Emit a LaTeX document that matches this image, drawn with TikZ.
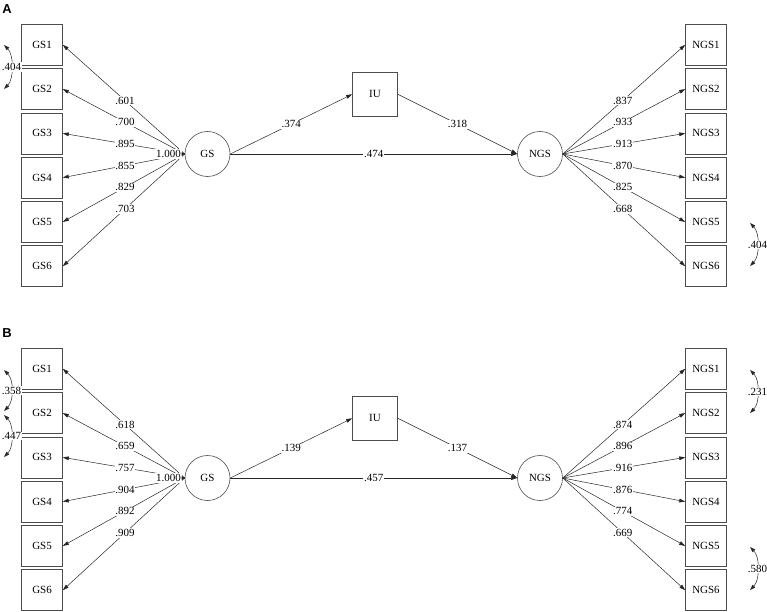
\documentclass[tikz,border=0pt]{standalone}
\usepackage{fontspec}
\setmainfont{Liberation Serif}
\newfontfamily\panelfont{Liberation Sans}
\usetikzlibrary{arrows.meta}
\tikzset{
  txt/.style={font=\fontsize{11}{13}\selectfont},
  obs/.style={draw=black!70, line width=0.6bp, minimum width=41bp, minimum height=41bp, inner sep=0pt, txt},
  lat/.style={circle, draw=black!70, line width=0.6bp, minimum size=45bp, inner sep=0pt, txt},
  arrowpath/.style={draw=black!85, line width=0.5bp, -{Triangle[length=6bp,width=3.8bp]}},
  varpath/.style={draw=black!85, line width=0.5bp, -{Triangle[length=3bp,width=3bp]}},
  covpath/.style={draw=black!85, line width=0.5bp, {Triangle[length=5.5bp,width=3.6bp]}-{Triangle[length=5.5bp,width=3.6bp]}},
  coef/.style={fill=white, inner sep=0.8bp, txt},
  panellabel/.style={font=\panelfont\bfseries\fontsize{13}{15}\selectfont, inner sep=0pt}
}
\newcommand\sempanel[7]{%
  \begin{scope}[shift={(0,#2)}]
    \node[panellabel] (#1-lab) at (7,9.5) {#1};
    \node[lat] (#1-gs) at (207.5,154) {GS};
    \node[lat] (#1-ngs) at (540,154) {NGS};
    \node[obs, minimum width=45bp, minimum height=44bp] (#1-iu) at (375,94.3) {IU};
    \foreach \v [count=\i] in {#3} {
      \node[obs] (#1-gs\i) at (42,{44.8+44.28*(\i-1)}) {GS\i};
      \draw[arrowpath] (#1-gs.west) -- (#1-gs\i.east) node[coef,pos=0.49] {\v};
    }
    \foreach \v [count=\i] in {#4} {
      \node[obs] (#1-ngs\i) at (706,{44.8+44.28*(\i-1)}) {NGS\i};
      \draw[arrowpath] (#1-ngs.east) -- (#1-ngs\i.west) node[coef,pos=0.49] {\v};
    }
    \node[coef] (#1-var) at (168.5,154) {1.000};
    \draw[varpath] (#1-var.east) -- (#1-gs.west);
    \draw[arrowpath] (#1-gs.east) -- (#1-iu.west) node[coef,pos=0.5] {#5};
    \draw[arrowpath] (#1-iu.east) -- (#1-ngs.west) node[coef,pos=0.5] {#6};
    \draw[arrowpath] (#1-gs.east) -- (#1-ngs.west) node[coef,pos=0.5] {#7};
  \end{scope}
}
\begin{document}
\begin{tikzpicture}[x=1bp,y=-1bp]
\useasboundingbox (0,0) rectangle (767,612);
\sempanel{A}{0}{.601,.700,.895,.855,.829,.703}{.837,.933,.913,.870,.825,.668}{.374}{.318}{.474}
\sempanel{B}{324}{.618,.659,.757,.904,.892,.909}{.874,.896,.916,.876,.774,.669}{.139}{.137}{.457}
% covariances, panel A
\coordinate (A-e1) at (4,45);
\coordinate (A-e2) at (4,89);
\draw[covpath] (A-e1) .. controls (14,55) and (14,79) .. (A-e2) node[coef,pos=0.5] {.404};
\coordinate (A-f5) at (750,223);
\coordinate (A-f6) at (750,266);
\draw[covpath] (A-f5) .. controls (760,233) and (760,256) .. (A-f6) node[coef,pos=0.5] {.404};
% covariances, panel B
\coordinate (B-e1) at (4,370);
\coordinate (B-e2a) at (4,411);
\coordinate (B-e2b) at (4,415);
\coordinate (B-e3) at (4,457);
\draw[covpath] (B-e1) .. controls (14,380) and (14,401) .. (B-e2a) node[coef,pos=0.5] {.358};
\draw[covpath] (B-e2b) .. controls (14,425) and (14,447) .. (B-e3) node[coef,pos=0.5] {.447};
\coordinate (B-f1) at (750,370);
\coordinate (B-f2) at (750,413);
\draw[covpath] (B-f1) .. controls (760,380) and (760,403) .. (B-f2) node[coef,pos=0.5] {.231};
\coordinate (B-f5) at (750,547);
\coordinate (B-f6) at (750,590);
\draw[covpath] (B-f5) .. controls (760,557) and (760,580) .. (B-f6) node[coef,pos=0.5] {.580};
\end{tikzpicture}
\end{document}
